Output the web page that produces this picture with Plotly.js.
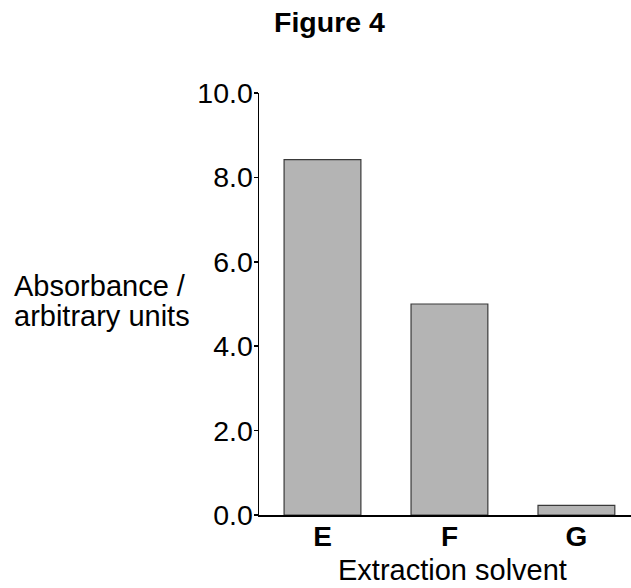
<!DOCTYPE html>
<html>
<head>
<meta charset="utf-8">
<script src="https://cdn.plot.ly/plotly-3.0.1.min.js"></script>
<style>html,body{margin:0;padding:0;background:#fff;}#chart{width:631px;height:588px;}</style>
</head>
<body>
<div id="chart"></div>
<script>
const categories = ['E', 'F', 'G'];
const absorbance = [8.42, 5.0, 0.23];
const yTickValues = [0, 2, 4, 6, 8, 10];
const yTickLabels = ['0.0', '2.0', '4.0', '6.0', '8.0', '10.0'];
const yTitleLines = ['Absorbance /', 'arbitrary units'];

const FONT = 'Liberation Sans, Arial, sans-serif';

const trace = {
  type: 'bar',
  x: categories,
  y: absorbance,
  width: 0.605,
  marker: { color: '#b4b4b4', line: { color: '#3a3a3a', width: 1.2 } },
  hoverinfo: 'none'
};

const yTitleCenters = [286, 316];

const layout = {
  width: 631,
  height: 588,
  margin: { l: 259, r: 0, t: 93, b: 73, pad: 0 },
  paper_bgcolor: '#ffffff',
  plot_bgcolor: '#ffffff',
  showlegend: false,
  font: { family: FONT, color: '#000' },
  xaxis: {
    type: 'category',
    range: [-0.5, 2.43],
    showline: true,
    linecolor: '#000',
    linewidth: 1.5,
    ticks: '',
    showgrid: false,
    zeroline: false,
    ticklabelstandoff: -4,
    tickfont: { family: FONT, size: 28, weight: 'bold', color: '#000' },
    fixedrange: true
  },
  yaxis: {
    range: [0, 10],
    tickvals: yTickValues,
    ticktext: yTickLabels,
    showline: true,
    linecolor: '#000',
    linewidth: 1.5,
    ticks: 'outside',
    ticklen: 4,
    tickwidth: 1.5,
    tickcolor: '#000',
    showgrid: false,
    zeroline: false,
    ticklabelstandoff: -5,
    tickfont: { family: FONT, size: 28.5, color: '#000' },
    fixedrange: true
  },
  annotations: [
    { text: '<b>Figure 4</b>', xref: 'paper', yref: 'paper', x: (329 - 259) / 372, y: (515 - 22) / 422, xanchor: 'center', yanchor: 'middle', showarrow: false, font: { family: FONT, size: 28.5, color: '#000' } },
    { text: yTitleLines[0], xref: 'paper', yref: 'paper', x: (12 - 259) / 372, y: (515 - yTitleCenters[0]) / 422, xanchor: 'left', yanchor: 'middle', align: 'left', showarrow: false, font: { family: FONT, size: 29, color: '#000' } },
    { text: yTitleLines[1], xref: 'paper', yref: 'paper', x: (12 - 259) / 372, y: (515 - yTitleCenters[1]) / 422, xanchor: 'left', yanchor: 'middle', align: 'left', showarrow: false, font: { family: FONT, size: 29, color: '#000' } },
    { text: 'Extraction solvent', xref: 'paper', yref: 'paper', x: (452 - 259) / 372, y: (515 - 570) / 422, xanchor: 'center', yanchor: 'middle', showarrow: false, font: { family: FONT, size: 29, color: '#000' } }
  ]
};

Plotly.newPlot('chart', [trace], layout, { displayModeBar: false, staticPlot: true });
</script>
</body>
</html>
